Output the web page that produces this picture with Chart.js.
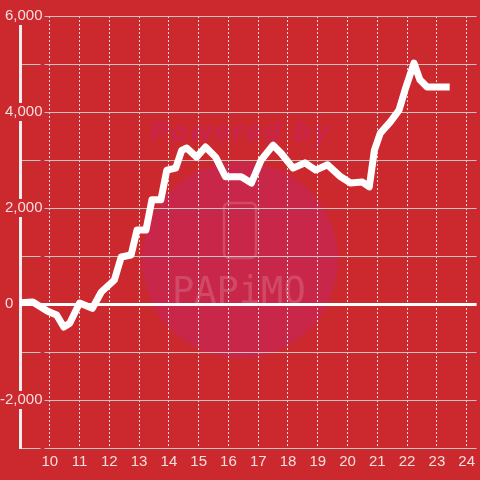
<!DOCTYPE html>
<html>
<head>
<meta charset="utf-8">
<script src="https://cdn.jsdelivr.net/npm/chart.js@4"></script>
<style>
  body { margin: 0; background: #cc292e; }
  #wrap { width: 480px; height: 480px; }
</style>
</head>
<body>
<div id="wrap"><canvas id="pnlChart"></canvas></div>
<script>
// Data (time of day in hours, value)
const hours = [8.9, 9.43, 9.93, 10.23, 10.47, 10.67, 11.0, 11.43, 11.73, 12.17,
  12.4, 12.73, 12.93, 13.23, 13.43, 13.73, 13.93, 14.23, 14.43, 14.6,
  14.93, 15.23, 15.57, 15.9, 16.43, 16.77, 17.1, 17.5, 17.77, 18.17,
  18.57, 18.93, 19.33, 19.77, 20.1, 20.5, 20.73, 20.9, 21.1, 21.43,
  21.73, 21.93, 22.23, 22.43, 22.67, 23.43];
const values = [20, 40, -150, -230, -480, -400, 20, -90, 250, 500,
  980, 1020, 1540, 1540, 2170, 2170, 2790, 2830, 3200, 3250,
  3060, 3270, 3060, 2650, 2650, 2520, 3000, 3310, 3140, 2830,
  2940, 2790, 2900, 2650, 2520, 2540, 2440, 3200, 3560, 3790,
  4040, 4460, 5020, 4670, 4520, 4520];

const xTicks = [10, 11, 12, 13, 14, 15, 16, 17, 18, 19, 20, 21, 22, 23, 24];
const yTicks = [-3000, -2000, -1000, 0, 1000, 2000, 3000, 4000, 5000, 6000];
const yTickLabels = ['', '-2,000', '', '0       ', '', '2,000', '', '4,000', '', '6,000'];

const bgRed = '#cc292e';
const labelColor = '#f5dede';

// faint "Powered by PAPiMO" mark behind the chart
const watermark = {
  id: 'watermark',
  beforeDraw(chart) {
    const ctx = chart.ctx;
    ctx.save();
    ctx.fillStyle = '#c9274a';
    ctx.beginPath();
    ctx.arc(240, 260, 98, 0, Math.PI * 2);
    ctx.fill();

    ctx.fillStyle = 'rgba(200, 36, 78, 1)';
    ctx.font = 'italic bold 27px "Liberation Sans"';
    ctx.letterSpacing = '3px';
    ctx.textBaseline = 'alphabetic';
    ctx.fillText('Powered by', 150, 141);

    ctx.letterSpacing = '0px';
    ctx.strokeStyle = 'rgba(255, 255, 255, 0.16)';
    ctx.lineWidth = 2.5;
    ctx.beginPath();
    ctx.roundRect(224, 203, 32, 55, 5);
    ctx.stroke();

    ctx.fillStyle = 'rgba(255, 255, 255, 0.16)';
    ctx.font = '37px "DejaVu Sans Mono"';
    ctx.fillText('PAPiMO', 172, 303);
    ctx.restore();
  }
};

const ctx = document.getElementById('pnlChart').getContext('2d');
new Chart(ctx, {
  type: 'line',
  data: {
    datasets: [{
      data: hours.map((h, i) => ({ x: h, y: values[i] })),
      borderColor: '#ffffff',
      borderWidth: 7,
      borderJoinStyle: 'round',
      pointRadius: 0,
      tension: 0,
      fill: false
    }]
  },
  options: {
    responsive: true,
    maintainAspectRatio: false,
    animation: false,
    layout: { padding: { top: 16, right: 0, left: 0, bottom: 0 } },
    plugins: { legend: { display: false }, tooltip: { enabled: false } },
    scales: {
      x: {
        type: 'linear',
        min: 9,
        max: 24.333,
        afterBuildTicks: s => { s.ticks = xTicks.map(v => ({ value: v })); },
        afterFit: s => { s.height = 32; },
        grid: { color: '#eedede', lineWidth: 1, drawTicks: false },
        border: { display: false, dash: [2, 2] },
        ticks: {
          color: labelColor,
          padding: 5,
          maxRotation: 0,
          font: { family: '"Liberation Sans"', size: 15 }
        }
      },
      y: {
        min: -3000,
        max: 6000,
        afterBuildTicks: s => { s.ticks = yTicks.map(v => ({ value: v })); },
        afterFit: s => { s.width = 20; },
        grid: {
          color: c => (c.tick && c.tick.value === 0) ? '#ffffff' : '#c9c4c4',
          lineWidth: c => (c.tick && c.tick.value === 0) ? 3 : 1,
          drawTicks: false
        },
        border: { display: true, color: '#f2eeee', width: 3 },
        ticks: {
          callback: (v, i) => yTickLabels[i],
          color: labelColor,
          mirror: true,
          crossAlign: 'far',
          padding: -20,
          font: { family: '"Liberation Sans"', size: 15 },
          showLabelBackdrop: true,
          backdropColor: c => (c.tick && c.tick.value !== 0) ? bgRed : 'rgba(0,0,0,0)',
          backdropPadding: { top: 0, bottom: 0, left: 2, right: 2 }
        }
      }
    }
  },
  plugins: [watermark]
});
</script>
</body>
</html>
